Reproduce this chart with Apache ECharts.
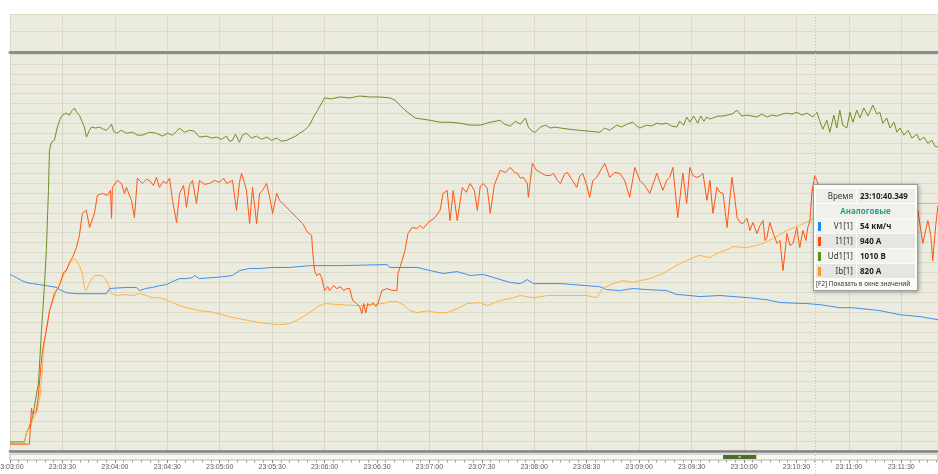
<!DOCTYPE html>
<html>
<head>
<meta charset="utf-8">
<script src="https://cdn.jsdelivr.net/npm/echarts@6/dist/echarts.min.js"></script>
<style>
  html, body { margin: 0; padding: 0; background: #fff; }
  #chart { width: 938px; height: 474px; }
</style>
</head>
<body>
<div id="chart"></div>
<script>
// seconds from 23:03:00, values in real units
const ud1 = [[0,0],[8.2,0],[9.4,28],[10.5,40],[12.3,65],[13.4,90],[14.5,127],[16.3,183],[18,344],[19.7,484],[20.8,592],[22,778],[22.6,902],[23.7,927],[25.4,933],[27.1,974],[28.9,1002],[30,1011],[31.1,1005],[32.3,1017],[34,1011],[35.2,1023],[36.9,1033],[38,1020],[39.7,1011],[41.4,989],[42.6,974],[43.7,943],[45.5,964],[46.6,974],[48.9,971],[51.2,974],[53.5,967],[55.2,964],[56.9,974],[58.1,983],[59.2,961],[60.9,955],[63.8,964],[66.6,955],[70.1,958],[72.9,949],[75.8,949],[79.8,958],[83.8,955],[87.2,946],[90.1,955],[93,949],[95.3,961],[97,971],[99.8,958],[102.7,964],[105.6,961],[106.7,955],[108.4,943],[112.4,946],[115.3,940],[118.2,943],[121,936],[123.9,946],[125.6,930],[127.3,933],[129,952],[131.3,927],[133,949],[135.3,955],[138.2,940],[141.1,946],[143.9,936],[146.8,943],[149.7,933],[152.6,940],[155.4,930],[158.3,933],[161.1,940],[163.4,946],[165.7,955],[168.5,964],[171.4,980],[173.7,1005],[176,1026],[178.3,1048],[180,1064],[184,1061],[188.6,1067],[194.3,1064],[200.1,1070],[205.9,1067],[211.6,1067],[217.4,1064],[220.3,1057],[223.1,1042],[226,1026],[228.9,1014],[231.8,1002],[235.5,999],[240.4,995],[246.1,989],[251.8,989],[257.6,986],[263.3,980],[269.1,980],[274.8,989],[280.6,995],[283,983],[286.3,977],[289.2,992],[292,983],[294.9,1002],[296.6,974],[298.9,961],[300.6,958],[303.5,974],[306.4,980],[309.2,971],[312,974],[315,971],[320.4,967],[326,964],[331.7,961],[337.4,958],[340.3,971],[343.2,964],[347.2,980],[350,974],[352.9,983],[356.4,989],[358.6,977],[360.4,971],[364.3,980],[367.2,977],[370.1,986],[372.9,983],[375.8,986],[378.6,977],[381.5,974],[383.2,992],[385.5,980],[387.2,1005],[389,989],[391.2,1008],[393.5,986],[395.3,1008],[397,992],[398.7,1005],[400.5,999],[402.2,1002],[405.1,1008],[408,1008],[410.2,1011],[413.1,1014],[416,1026],[418.8,1008],[421.7,1011],[424.6,1008],[427.4,1005],[430.2,1014],[433.1,1005],[435.9,1011],[438.8,1008],[441.6,1014],[444.5,1017],[447.4,1014],[450.2,1020],[453.1,1011],[456,1017],[459.4,1005],[461.7,1020],[463.4,992],[465.1,967],[467.4,995],[469.1,958],[471.4,1011],[473.1,971],[474.8,1026],[476.5,980],[478.8,971],[480.6,1020],[482.3,989],[484.5,1026],[486.3,1002],[488.6,1033],[490.9,1008],[493.7,1042],[496,1014],[497.7,1020],[499.4,986],[501.7,1002],[503.5,971],[505.8,989],[507.5,958],[509.2,971],[511.5,949],[513.8,964],[516.1,940],[518.9,952],[520.6,933],[522.9,943],[525.2,924],[527.5,933],[529.2,915],[531,912]];

const i1 = [[0,0],[11.1,0],[11.7,4],[12.3,130],[12.8,109],[14,112],[15.1,120],[16.3,181],[16.8,217],[18.5,337],[20.8,410],[22.6,482],[25.4,544],[28.3,573],[30.6,620],[32.3,627],[34,656],[35.7,674],[38,710],[39.7,754],[41.4,834],[43.7,845],[45.5,783],[46.6,779],[48.3,834],[50,899],[52.9,906],[55.8,899],[57.5,917],[58.1,816],[58.6,928],[61.5,953],[63.8,942],[65.5,906],[66.6,928],[69.5,881],[71.2,819],[72.9,961],[75.8,942],[78.1,957],[79.8,953],[82.1,935],[83.8,964],[85.5,928],[87.8,950],[89.5,942],[91.3,961],[93,881],[95.3,801],[97,906],[99.3,935],[101,856],[102.7,935],[104.4,953],[106.7,870],[108.4,953],[111.2,939],[114.2,942],[117,953],[119.9,946],[122.2,961],[123.9,942],[127.3,953],[129.6,845],[131.3,946],[132.5,979],[134.1,946],[135.3,917],[137.1,797],[138.8,928],[141.1,797],[142.8,906],[144.5,917],[146.8,942],[148.6,892],[150.3,834],[152.6,906],[154.3,881],[156,870],[160,845],[164,819],[167.5,797],[170.3,765],[172.6,754],[173.1,700],[174.3,627],[175.4,609],[177.2,616],[178.3,602],[180,555],[181.8,569],[182.9,555],[185.2,573],[186.9,562],[189.2,569],[190.9,555],[192.6,562],[194.3,562],[196.1,519],[198.4,508],[200.1,497],[201.3,471],[202.4,508],[203.6,475],[204.7,508],[205.9,500],[207.6,511],[209.3,497],[210.5,508],[212.8,555],[215.7,562],[219.1,555],[221.4,555],[222,616],[224.3,663],[226,700],[227.7,761],[230.1,783],[232.9,779],[234.6,790],[236.4,779],[239.3,801],[243.2,819],[246.1,845],[247.8,906],[250.1,917],[251.8,808],[253.6,917],[255.9,808],[258.8,928],[261.1,910],[263.3,942],[265.7,917],[267.4,845],[269.1,932],[270.8,942],[273.1,924],[274.8,834],[277.1,935],[278.8,964],[280.6,990],[283.4,982],[286.3,1000],[288.6,982],[290.3,979],[292,961],[293.7,964],[296,942],[296.6,892],[298.9,1015],[301.2,990],[303.5,982],[306.4,971],[309.2,971],[311,979],[313.2,953],[315,942],[317.2,975],[319,982],[321.8,953],[324.3,928],[326,968],[327.7,979],[330,935],[331.7,892],[333.5,953],[335.7,964],[338,990],[340.3,1015],[343.2,964],[346,982],[348.9,979],[351.7,953],[354.6,892],[357.5,1000],[360.4,953],[363.2,935],[366.1,906],[370.1,979],[373.5,917],[375.8,953],[377.5,964],[379.3,1000],[382.1,819],[385,979],[387.2,870],[389,1000],[390.7,971],[393,964],[394.7,968],[396.5,979],[398.8,881],[400.5,953],[402.2,834],[404.5,928],[406.2,910],[408,906],[410.3,783],[413.1,964],[414.9,881],[416,819],[417.7,801],[419.4,797],[421.7,816],[423.4,772],[425.1,801],[427.4,761],[429.1,790],[430.9,808],[432,736],[433.1,747],[434.8,801],[436.6,765],[438.9,725],[440.6,736],[442.3,627],[444.6,761],[446.3,718],[448,725],[450.2,783],[451.9,710],[453.7,772],[455.4,736],[456.5,783],[457.7,808],[458.8,906],[460.5,971],[461.7,953],[463.4,917],[465.7,826],[468,859],[470.8,754],[473.7,826],[476.5,736],[479.4,808],[482.2,718],[485.1,790],[488,736],[490.9,826],[493.7,754],[496.6,845],[499.4,772],[502.3,826],[505.1,736],[508,837],[510.9,754],[513.8,808],[516.6,707],[519.5,845],[522.3,725],[525.2,808],[526.9,754],[528,663],[529.7,790],[531,862]];

const ib = [[0,0],[8.2,0],[8.8,22],[9.4,40],[10.5,58],[11.7,58],[12.8,84],[15.1,113],[16.8,156],[18,229],[19.7,373],[22.6,482],[26.6,555],[30,602],[34,652],[36.9,671],[39.7,645],[41.4,616],[42.6,566],[43.7,555],[45.5,584],[48.3,609],[52.9,609],[55.8,584],[58.1,544],[60.9,537],[65.5,540],[70.1,537],[74.1,544],[78.1,537],[81.5,529],[85.5,529],[89.5,522],[93,511],[97,500],[101,493],[104.4,489],[108.4,482],[114.2,479],[119.9,471],[125.6,460],[131.3,453],[137.1,446],[142.8,439],[148.6,435],[154.3,432],[160,435],[165.7,453],[171.4,475],[176,497],[180,508],[188.6,504],[200.1,500],[213.4,508],[217.4,515],[221.4,515],[224.9,504],[228.9,482],[232.9,475],[238.7,482],[244.4,475],[250.1,475],[255.9,489],[261.6,508],[269.1,511],[273.1,500],[280.6,519],[288,529],[292,537],[299.5,529],[307.5,537],[319,537],[330,537],[335.7,529],[339.2,562],[344.9,580],[350.6,591],[356.4,584],[360.4,591],[366.1,598],[373.5,616],[379.3,638],[383.2,652],[387.2,663],[390.7,674],[394.7,682],[400.5,674],[404.5,689],[412,707],[413.7,714],[421.7,710],[430.9,725],[436.6,743],[444.6,772],[451.9,790],[457.7,808],[460.5,818],[469.1,830],[480.6,845],[492,856],[503.5,863],[512,866],[517.8,870],[531,870]];

const v1 = [[0,65.2],[1.4,64.8],[3.7,64],[6.5,62.9],[9.4,62.1],[12.8,61.7],[16.8,61.3],[20.8,60.9],[26.6,60.2],[28.3,59.4],[32.3,58.2],[38,57.8],[47.2,57.8],[55.2,57.8],[56.9,59.8],[66.6,60.2],[72.4,60.2],[74.1,59],[77.5,59.8],[81.5,60.2],[85.5,60.9],[89.5,61.3],[93,62.5],[97,63.6],[101,63.6],[104.4,64],[105.6,64.8],[108.4,63.6],[115.9,64],[122.8,64.4],[127.3,64.8],[131.3,66.7],[137.1,67.5],[142.8,67.5],[150.3,67.9],[160,67.9],[171.5,68.6],[188.6,68.6],[215.7,69],[217.4,67.9],[232.9,67.9],[240.4,66.7],[247.8,65.6],[255.9,66.3],[263.3,64.8],[270.8,65.2],[278.8,63.6],[286.3,62.1],[292,61.7],[296,63.2],[299.5,61.7],[315,61.7],[330,60.9],[337.4,60.5],[341.4,59.4],[348.9,59],[356.4,59.8],[364.3,59.4],[375.8,59],[381.6,57.5],[389,57.1],[394.7,56.7],[406.2,57.1],[421.7,56.3],[433.1,55.5],[440.6,54.4],[456,54],[463.4,53.6],[474.8,52.4],[482.2,52.4],[497.7,51.3],[509.2,49.7],[520.6,49],[531,47.8]];

const spanSec = 531;          // 23:03:00 .. 23:11:51
const cursorSec = 460.349;    // 23:10:40.349
const thumbSpan = [408, 427];
const readNames = ['V1[1]', 'I1[1]', 'Ud1[1]', 'Ib[1]'];
const readValues = ['54 км/ч', '940 А', '1010 В', '820 А'];
const readColors = ['#1e88f0', '#ff4a0a', '#5e8a22', '#ff9a1f'];

function clock(sec) {
  const s = 23 * 3600 + 3 * 60 + Math.round(sec);
  const p = n => String(n).padStart(2, '0');
  return p(Math.floor(s / 3600)) + ':' + p(Math.floor(s / 60) % 60) + ':' + p(s % 60);
}

function tipHtml() {
  let h = '<div style="width:99px;padding:3px 2px 1px 2px;font-family:\'Noto Sans\',sans-serif;font-size:8px;line-height:12px;color:#222">';
  h += '<table style="border-collapse:separate;border-spacing:0 1.5px;width:100%">';
  h += '<tr style="background:#efefea"><td style="width:36px;text-align:right;padding-right:3px;border-right:1px solid #fff;color:#333">Время</td>' +
       '<td style="font-weight:bold;padding-left:3px">23:10:40.349</td></tr>';
  h += '<tr style="background:#f1f1ec"><td colspan="2" style="text-align:center;color:#2f9e8d;font-weight:bold">Аналоговые</td></tr>';
  readNames.forEach((n, k) => {
    h += '<tr style="background:' + (k % 2 ? '#e5e5e3' : '#f3f3ee') + '">' +
      '<td style="text-align:right;padding-right:3px;border-right:1px solid #fff;color:#333">' +
      '<span style="float:left;width:3px;height:9px;margin:1.5px 0 0 1px;background:' + readColors[k] + '"></span>' + n + '</td>' +
      '<td style="font-weight:bold;padding-left:3px">' + readValues[k] + '</td></tr>';
  });
  h += '</table><div style="font-size:6.4px;line-height:10px;white-space:nowrap;color:#333">[F2] Показать в окне значений</div></div>';
  return h;
}

const chart = echarts.init(document.getElementById('chart'));
const bg = '#ecebe0';
const gridLine = '#dcdbc8';
const labelFont = { fontSize: 7, fill: '#5a5a5a', fontFamily: 'Liberation Sans' };

const line = (name, data, yIdx, color) => ({
  name, type: 'line', xAxisIndex: 1, yAxisIndex: yIdx, data,
  showSymbol: false, symbol: 'none',
  lineStyle: { color, width: 1 }, itemStyle: { color }
});

chart.setOption({
  animation: false,
  backgroundColor: '#ffffff',
  grid: [
    { left: 10, right: 0, top: 14, height: 38, show: true, backgroundColor: bg, borderWidth: 0 },
    { left: 10, right: 0, top: 54, height: 397, show: true, backgroundColor: bg, borderWidth: 0 },
    { left: 10, right: 0, top: 454, height: 6, show: true, backgroundColor: '#f8f8f3', borderColor: '#b8b8ae', borderWidth: 1 }
  ],
  xAxis: [
    { gridIndex: 0, type: 'value', min: 0, max: spanSec, interval: 30,
      axisLabel: { show: false }, axisTick: { show: false },
      axisLine: { show: true, lineStyle: { color: '#8c8c8c', width: 3 } },
      splitLine: { show: true, lineStyle: { color: gridLine } } },
    { gridIndex: 1, type: 'value', min: 0, max: spanSec, interval: 30,
      axisLabel: { show: false }, axisTick: { show: false },
      axisLine: { show: true, lineStyle: { color: '#808080', width: 2.5 } },
      splitLine: { show: true, lineStyle: { color: '#d6d5c2' } } },
    { gridIndex: 2, type: 'value', min: 0, max: spanSec, interval: 30,
      axisLine: { show: false },
      axisTick: { show: true, length: 3, lineStyle: { color: '#8a8a8a' } },
      minorTick: { show: true, splitNumber: 6, length: 2.5, lineStyle: { color: '#9a9a9a' } },
      splitLine: { show: false },
      axisLabel: { fontSize: 7, color: '#5a5a5a', margin: 4, fontFamily: 'Liberation Sans',
        showMinLabel: false, showMaxLabel: false, hideOverlap: false,
        formatter: v => clock(v) } }
  ],
  yAxis: [
    { gridIndex: 0, type: 'value', min: 0, max: 38, interval: 21, axisLabel: { show: false },
      axisLine: { show: false }, axisTick: { show: false },
      splitLine: { show: true, lineStyle: { color: gridLine } } },
    { gridIndex: 1, type: 'value', min: 0, max: 40, interval: 1, axisLabel: { show: false },
      axisLine: { show: false }, axisTick: { show: false },
      splitLine: { show: true, lineStyle: { color: gridLine } } },
    { gridIndex: 1, type: 'value', min: -28, max: 1200, show: false },   // Ud1, V
    { gridIndex: 1, type: 'value', min: -25, max: 1410, show: false },   // I1, Ib, A
    { gridIndex: 1, type: 'value', min: -2.7, max: 150, show: false },   // V1, km/h
    { gridIndex: 2, type: 'value', min: 0, max: 1, show: false }
  ],
  tooltip: {
    trigger: 'axis', triggerOn: 'none', alwaysShowContent: true,
    axisPointer: { type: 'none' },
    position: [813, 184], padding: 0, borderWidth: 1, borderColor: '#9c9c9c',
    backgroundColor: '#fbfbf8', transitionDuration: 0,
    extraCssText: 'border-radius:0;box-shadow:1px 1px 4px rgba(0,0,0,0.35);',
    formatter: tipHtml
  },
  series: [
    line('Ib[1]', ib, 3, '#f8a23e'),
    line('V1[1]', v1, 4, '#3d8fe6'),
    line('Ud1[1]', ud1, 2, '#6e8f26'),
    line('I1[1]', i1, 3, '#ff4d10')
  ]
});

// cursor line, scroll thumb, and the first tick label (clipped by the left edge)
const cx = chart.convertToPixel({ xAxisIndex: 1 }, cursorSec);
const t0 = chart.convertToPixel({ xAxisIndex: 2 }, thumbSpan[0]);
const t1 = chart.convertToPixel({ xAxisIndex: 2 }, thumbSpan[1]);
const x0 = chart.convertToPixel({ xAxisIndex: 2 }, 0);
chart.setOption({
  graphic: [
    { type: 'line', shape: { x1: Math.round(cx) + 0.5, y1: 14, x2: Math.round(cx) + 0.5, y2: 474 },
      style: { stroke: '#c4c4bc', lineWidth: 1, lineDash: [1, 2] }, z: 5 },
    { type: 'rect', shape: { x: t0, y: 455, width: t1 - t0, height: 4 },
      style: { fill: '#4f6b28' }, z: 6 },
    { type: 'rect', shape: { x: (t0 + t1) / 2 - 1, y: 456, width: 2, height: 2 },
      style: { fill: '#b9c9a0' }, z: 7 },
    { type: 'text', x: x0, y: 464,
      style: Object.assign({ text: clock(0), align: 'center', verticalAlign: 'top' }, labelFont), z: 7 }
  ]
});
chart.dispatchAction({ type: 'showTip', x: cx, y: 300 });
</script>
</body>
</html>
